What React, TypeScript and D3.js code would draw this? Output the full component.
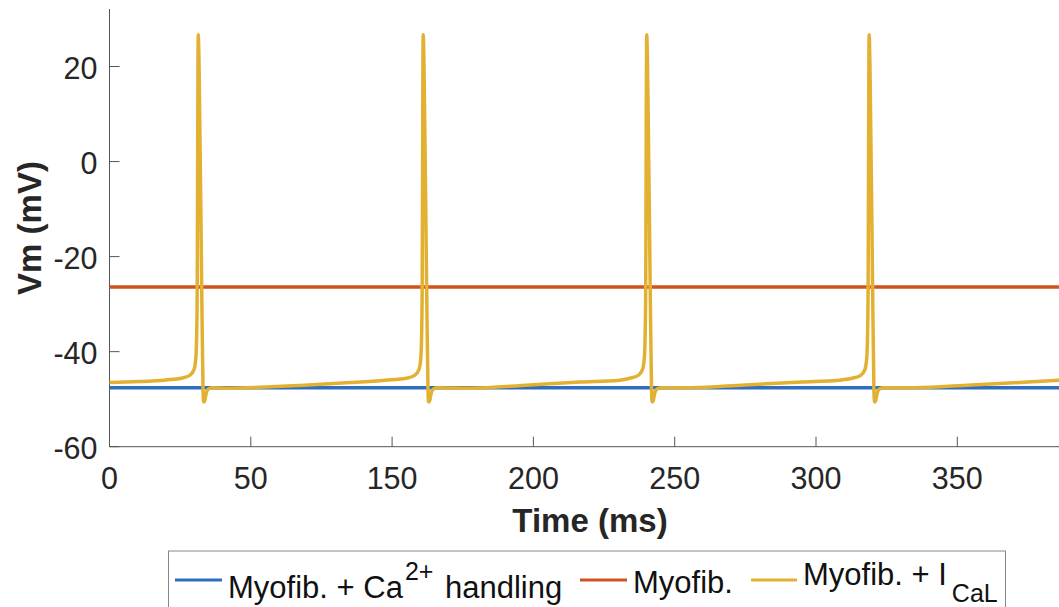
import React from "react";
import * as d3 from "d3";

// ---- data ----
const xTickValues = [0, 50, 150, 200, 250, 300, 350];
const xTickLabels = ["0", "50", "150", "200", "250", "300", "350"];
const yTickValues = [-60, -40, -20, 0, 20];

const seriesNames = ["Myofib. + Ca2+ handling", "Myofib.", "Myofib. + ICaL"];
const seriesColors = ["#2F6DBE", "#CF5320", "#E3B132"];

const blueLevel = -47.6; // Myofib. + Ca2+ handling (flat)
const redLevel = -26.4; // Myofib. (flat)

// Myofib. + ICaL : [time (ms), Vm (mV)]
const yellowTrace: [number, number][] = [
  [0, -46.5], [10, -46.3], [20, -45.95], [25.4, -45.6], [28.4, -45.0], [29.9, -43.8],
  [30.6, -41], [31.0, -30], [31.4, 26.7], [31.7, 20], [32.6, -25], [33.1, -48],
  [33.3, -50.6], [33.7, -50.3], [34.2, -48.8], [34.9, -47.9], [36.4, -47.6],
  [42.7, -47.7], [56.5, -47.5], [84.8, -47.1], [120.2, -46.5], [145, -46.0],
  [155, -45.6], [158, -45.0], [159.5, -43.8], [160.2, -41], [160.6, -30], [161.0, 26.7],
  [161.3, 20], [162.2, -25], [162.7, -48], [162.9, -50.6], [163.3, -50.3], [163.8, -48.8],
  [164.5, -47.9], [166, -47.6], [177.5, -47.7], [198.8, -47.0], [216.5, -46.4], [230.6, -46.0],
  [234.1, -45.6], [237.1, -45.0], [238.6, -43.8], [239.3, -41], [239.7, -30], [240.1, 26.7],
  [240.4, 20], [241.3, -25], [241.8, -48], [242.0, -50.6], [242.4, -50.3], [242.9, -48.8],
  [243.6, -47.9], [245.1, -47.6], [256, -47.6], [275, -47.0], [295, -46.4], [308, -46.0],
  [312.8, -45.6], [315.8, -45.0], [317.3, -43.8], [318.0, -41], [318.4, -30], [318.8, 26.7],
  [319.1, 20], [320.0, -25], [320.5, -48], [320.7, -50.6], [321.1, -50.3], [321.6, -48.8],
  [322.3, -47.9], [323.8, -47.6], [335, -47.6], [355, -47.0], [375, -46.4], [390, -45.9],
];

// ---- layout ----
const W = 1059;
const H = 607;
const left = 109.5;
const top = 9;
const bottom = 446.7;
const pxPerMs = 2.826;
const FONT = "'Liberation Sans', Arial, Helvetica, sans-serif";
const TXT = "#262626";

export default function App() {
  const x = d3
    .scaleLinear()
    .domain([0, 50, 150, 390])
    .range([left, left + 50 * pxPerMs, left + 100 * pxPerMs, left + 340 * pxPerMs]);
  const y = d3.scaleLinear().domain([-60, 32.1]).range([bottom, top]);
  const right = x(390);

  const line = d3
    .line<[number, number]>()
    .x((d) => x(d[0]))
    .y((d) => y(d[1]))
    .curve(d3.curveMonotoneX);

  const flat = (v: number): [number, number][] => [
    [0, v],
    [390, v],
  ];

  const lw = 3.5;

  return (
    <svg
      width={W}
      height={H}
      style={{ position: "absolute", left: 0, top: 0, background: "#fff" }}
      fontFamily={FONT}
    >
      <defs>
        <clipPath id="plotclip">
          <rect x={left} y={top - 2} width={right - left} height={bottom - top + 2} />
        </clipPath>
      </defs>
      <rect x={0} y={0} width={W} height={H} fill="#fff" />

      {/* axes */}
      <line x1={left} x2={left} y1={top} y2={bottom} stroke="#555" strokeWidth={1} />
      <line x1={left} x2={right} y1={bottom} y2={bottom} stroke="#555" strokeWidth={1} />

      {yTickValues.map((v) => (
        <g key={"y" + v}>
          <line x1={left} x2={left + 10} y1={y(v)} y2={y(v)} stroke="#555" strokeWidth={1} />
          <text x={left - 12} y={y(v) + 12} textAnchor="end" fontSize={30.5} fill={TXT}>
            {v}
          </text>
        </g>
      ))}
      {xTickValues.map((v, i) => (
        <g key={"x" + v}>
          <line x1={x(v)} x2={x(v)} y1={bottom} y2={bottom - 10} stroke="#555" strokeWidth={1} />
          <text x={x(v)} y={488.5} textAnchor="middle" fontSize={30.5} fill={TXT}>
            {xTickLabels[i]}
          </text>
        </g>
      ))}

      <text x={590} y={531.5} textAnchor="middle" fontSize={33} fontWeight="bold" fill={TXT}>
        Time (ms)
      </text>
      <text
        transform={`translate(41,228) rotate(-90)`}
        textAnchor="middle"
        fontSize={33}
        fontWeight="bold"
        fill={TXT}
      >
        Vm (mV)
      </text>

      {/* series */}
      <g clipPath="url(#plotclip)" fill="none" strokeLinejoin="round" strokeLinecap="round">
        <path d={line(flat(blueLevel)) || ""} stroke={seriesColors[0]} strokeWidth={lw} />
        <path d={line(flat(redLevel)) || ""} stroke={seriesColors[1]} strokeWidth={lw} />
        <path d={line(yellowTrace) || ""} stroke={seriesColors[2]} strokeWidth={lw} />
      </g>

      {/* legend */}
      <g>
        <rect x={168.5} y={551} width={837} height={70} fill="#fff" stroke="#888" strokeWidth={1} />
        <line x1={175} x2={222} y1={580} y2={580} stroke={seriesColors[0]} strokeWidth={3} />
        <text x={228} y={598} fontSize={31} fill="#111">
          Myofib. + Ca
          <tspan fontSize={25} dx={2} dy={-18}>2+</tspan>
          <tspan fontSize={31} dx={3} dy={18}> handling</tspan>
        </text>
        <line x1={580} x2={627} y1={580} y2={580} stroke={seriesColors[1]} strokeWidth={3} />
        <text x={633} y={593} fontSize={31} fill="#111">
          Myofib.
        </text>
        <line x1={751} x2={797} y1={580} y2={580} stroke={seriesColors[2]} strokeWidth={3} />
        <text x={803} y={585} fontSize={31} fill="#111">
          Myofib. + I
          <tspan fontSize={25} dx={5} dy={16.5}>CaL</tspan>
        </text>
      </g>
    </svg>
  );
}
